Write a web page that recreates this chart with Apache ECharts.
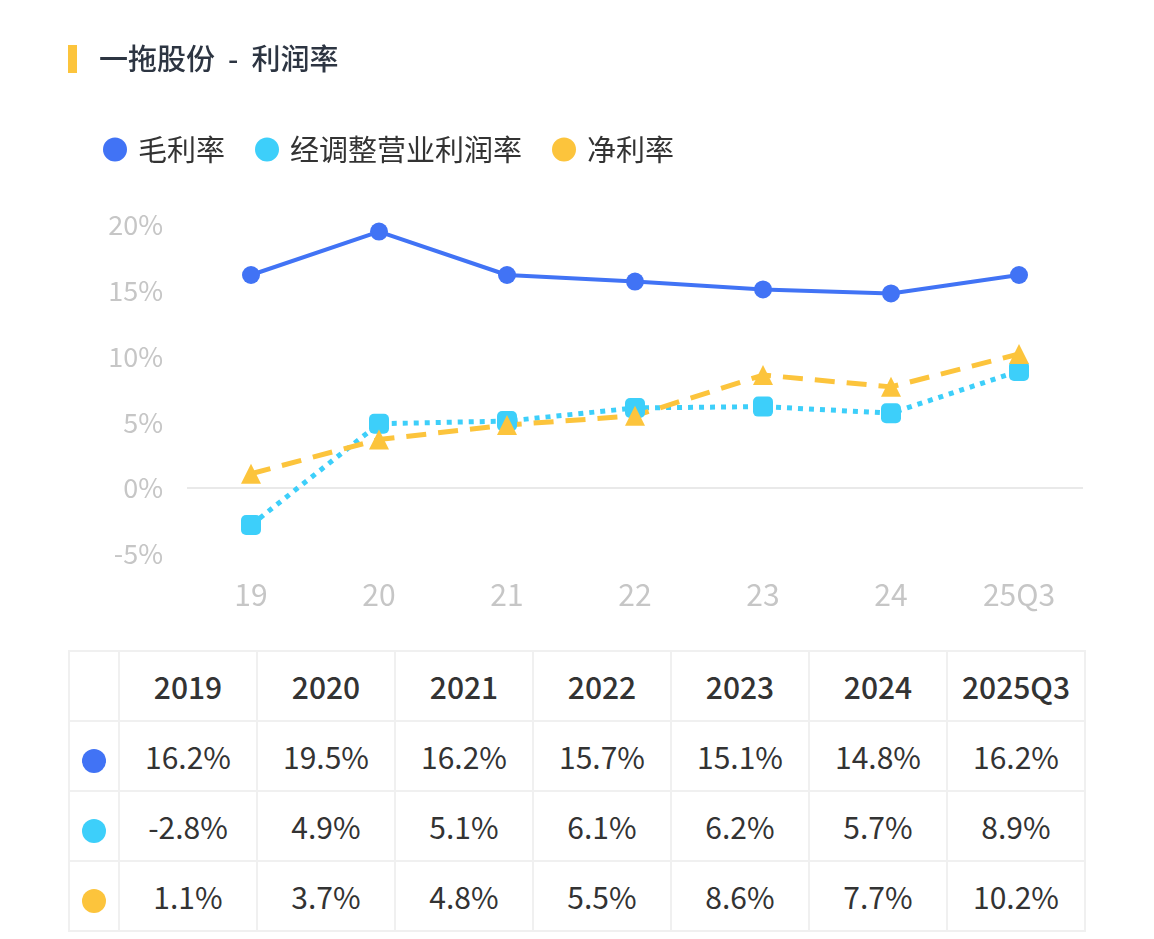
<!DOCTYPE html>
<html>
<head>
<meta charset="utf-8">
<script src="https://cdn.jsdelivr.net/npm/echarts@6/dist/echarts.min.js"></script>
<style>
  body { margin: 0; background: #fff; font-family: "Noto Sans CJK SC", "Noto Sans", sans-serif; }
  #chart { position: absolute; left: 0; top: 0; width: 1154px; height: 640px; }
  #tbl { position: absolute; left: 68px; top: 650px; border-collapse: collapse; table-layout: fixed; }
  #tbl td { border: 2px solid #f0f0f0; text-align: center; color: #333; font-size: 30px; height: 68px; padding: 0; width: 136px; }
  #tbl td.first { width: 48px; }
  #tbl tr.head td { font-weight: 500; }
  .dot { display: inline-block; width: 24px; height: 24px; border-radius: 12px; vertical-align: middle; }
</style>
</head>
<body>
<div id="chart"></div>
<table id="tbl"></table>
<script>
var categories = ['19', '20', '21', '22', '23', '24', '25Q3'];
var years = ['2019', '2020', '2021', '2022', '2023', '2024', '2025Q3'];
var seriesNames = ['毛利率', '经调整营业利润率', '净利率'];
var grossMargin = [16.2, 19.5, 16.2, 15.7, 15.1, 14.8, 16.2];
var adjOpMargin = [-2.8, 4.9, 5.1, 6.1, 6.2, 5.7, 8.9];
var netMargin = [1.1, 3.7, 4.8, 5.5, 8.6, 7.7, 10.2];
var colors = ['#4173f5', '#3dcffa', '#fcc43c'];

var myChart = echarts.init(document.getElementById('chart'));
var font = '"Noto Sans CJK SC", "Noto Sans", sans-serif';

myChart.setOption({
	animation: false,
	color: colors,
	title: {
		text: '一拖股份  -  利润率',
		left: 94, top: 39,
		textStyle: { fontSize: 29, fontWeight: 500, color: '#2d3542', fontFamily: font }
	},
	graphic: [{
		type: 'rect', left: 68, top: 45,
		shape: { width: 9, height: 28 },
		style: { fill: '#fcc43c' }
	}],
	legend: {
		left: 98, top: 130,
		icon: 'circle', itemWidth: 24, itemHeight: 24, itemGap: 30,
		textStyle: { fontSize: 29, color: '#333', fontFamily: font, padding: [0, 0, 0, 6] },
		data: seriesNames
	},
	grid: { left: 187, right: 71, top: 225, height: 329, containLabel: false },
	xAxis: {
		type: 'category',
		data: categories,
		boundaryGap: true,
		axisLine: { show: false },
		axisTick: { show: false },
		axisLabel: { fontSize: 30, color: '#c6c6c6', margin: 26, fontFamily: font }
	},
	yAxis: {
		type: 'value',
		min: -5, max: 20, interval: 5,
		axisLabel: { formatter: '{value}%', fontSize: 27, color: '#c6c6c6', margin: 24, fontFamily: font },
		// only the zero line is visible in the reference
		splitLine: { show: true, showMinLine: false, showMaxLine: false,
			lineStyle: { width: 2,
				color: ['#e9e9e9', 'transparent', 'transparent', 'transparent', 'transparent', 'transparent'] } },
		axisLine: { show: false },
		axisTick: { show: false }
	},
	series: [
		{
			name: seriesNames[0], type: 'line', data: grossMargin,
			symbol: 'circle', symbolSize: 18,
			lineStyle: { width: 4, color: colors[0] },
			itemStyle: { color: colors[0] }
		},
		{
			name: seriesNames[1], type: 'line', data: adjOpMargin,
			symbol: 'roundRect', symbolSize: 20,
			lineStyle: { width: 5, color: colors[1], type: [5, 6] },
			itemStyle: { color: colors[1] }
		},
		{
			name: seriesNames[2], type: 'line', data: netMargin,
			symbol: 'triangle', symbolSize: 20,
			lineStyle: { width: 5, color: colors[2], type: [20, 12] },
			itemStyle: { color: colors[2] }
		}
	]
});

// table below the chart
var rows = [grossMargin, adjOpMargin, netMargin];
var html = '<tr class="head"><td class="first"></td>';
years.forEach(function (y) { html += '<td>' + y + '</td>'; });
html += '</tr>';
rows.forEach(function (vals, i) {
	html += '<tr><td class="first"><span class="dot" style="background:' + colors[i] + '"></span></td>';
	vals.forEach(function (v) { html += '<td>' + v.toFixed(1) + '%</td>'; });
	html += '</tr>';
});
document.getElementById('tbl').innerHTML = html;
</script>
</body>
</html>
